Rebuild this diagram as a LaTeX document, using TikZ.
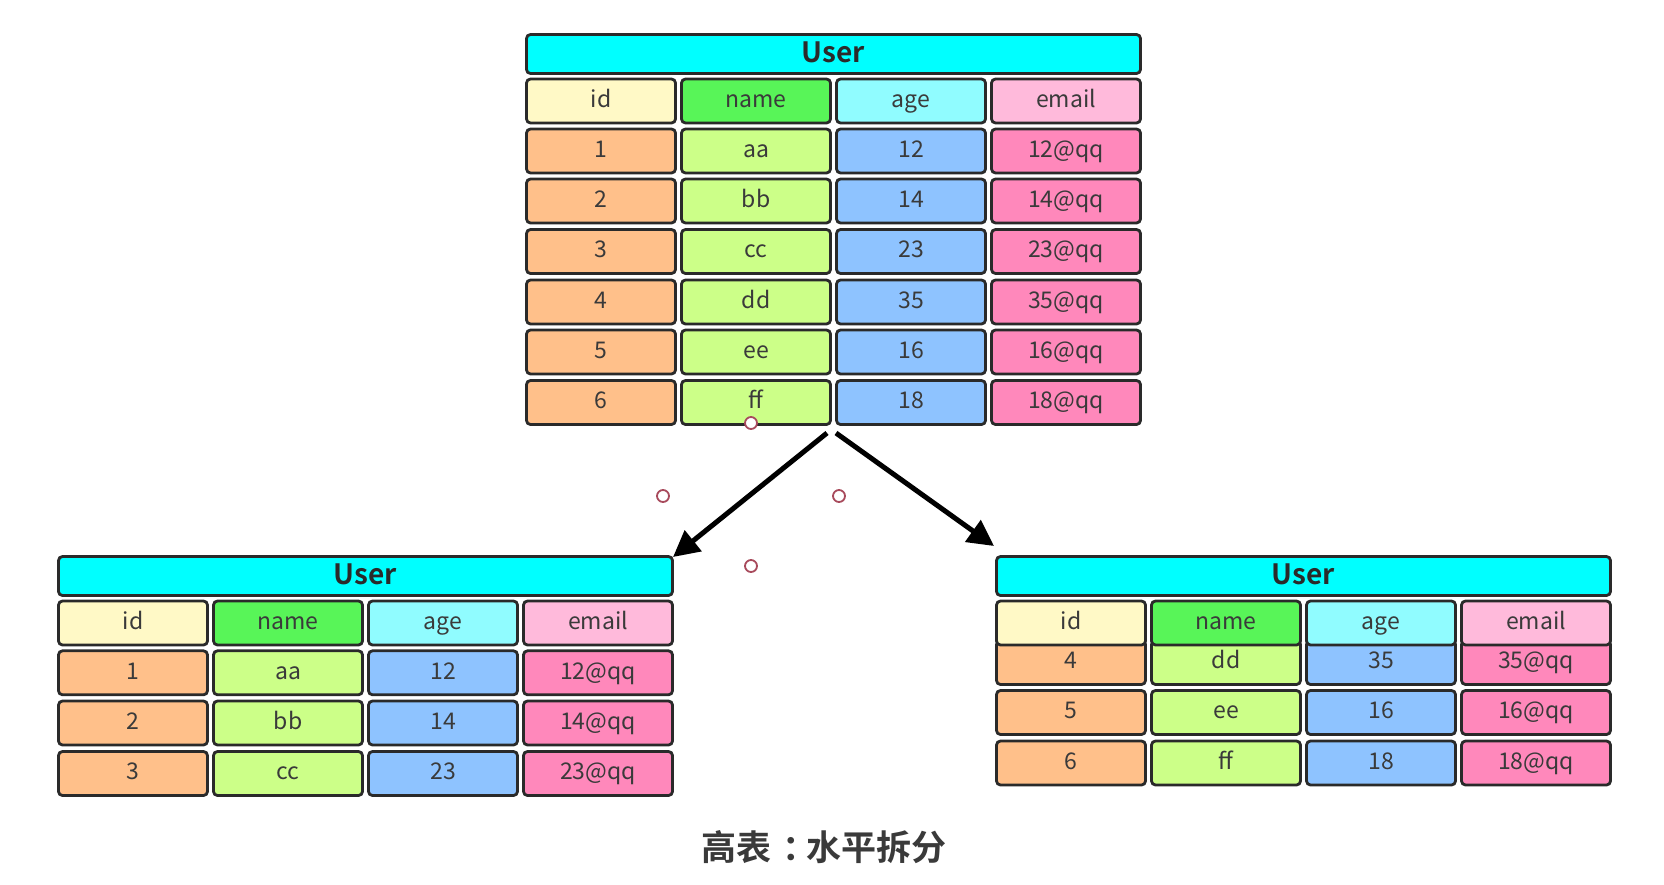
\documentclass[tikz,border=0pt]{standalone}
\usepackage{fontspec}
\setmainfont{Noto Sans CJK SC}[BoldFont={Noto Sans CJK SC Bold}]
\usetikzlibrary{arrows.meta}
\definecolor{ttl}{HTML}{00FFFF}
\definecolor{hid}{HTML}{FFF9C6}
\definecolor{hname}{HTML}{58F558}
\definecolor{hage}{HTML}{90FCFF}
\definecolor{hemail}{HTML}{FFBADB}
\definecolor{cid}{HTML}{FFC08A}
\definecolor{cname}{HTML}{CCFF88}
\definecolor{cage}{HTML}{8EC3FF}
\definecolor{cemail}{HTML}{FF88BB}
\definecolor{bord}{HTML}{2A2A2A}
\definecolor{txt}{HTML}{3A3A3A}
\definecolor{dot}{HTML}{A84A5C}
\tikzset{
 cellbox/.style={draw=bord, line width=2.8pt, rounded corners=4pt, minimum width=149pt, minimum height=44pt, inner sep=0pt, text=txt, text height=16.5pt, text depth=4pt, font=\fontsize{23}{23}\selectfont},
 titlebox/.style={cellbox, fill=ttl, minimum width=614pt, minimum height=39pt, text height=19pt, text depth=2pt, font=\bfseries\fontsize{28}{28}\selectfont, text=bord},
 splitarrow/.style={draw=black, line width=5pt, -{Triangle[length=26pt,width=26pt]}},
 handle/.style={circle, draw=dot, fill=white, line width=1.8pt, minimum size=12pt, inner sep=0pt},
 captionbox/.style={font=\bfseries\fontsize{35}{35}\selectfont, text=txt, inner sep=0pt}
}
\newcommand{\usertable}[4]{%
 \foreach \vi/\vn/\va/\vy in {#4} {
   \node[cellbox, fill=cid] (#1-\vi-id) at (#2+76, \vy) {\vi};
   \node[cellbox, fill=cname] (#1-\vi-name) at (#2+231, \vy) {\vn};
   \node[cellbox, fill=cage] (#1-\vi-age) at (#2+386, \vy) {\va};
   \node[cellbox, fill=cemail] (#1-\vi-email) at (#2+541, \vy) {\va @qq};
 }
 \node[cellbox, fill=hid] (#1-id) at (#2+76, #3+68) {id};
 \node[cellbox, fill=hname] (#1-name) at (#2+231, #3+68) {name};
 \node[cellbox, fill=hage] (#1-age) at (#2+386, #3+68) {age};
 \node[cellbox, fill=hemail] (#1-email) at (#2+541, #3+68) {email};
 \node[titlebox] (#1-title) at (#2+308.5, #3+21) {User};
}
\begin{document}
\begin{tikzpicture}[x=1pt, y=-1pt]
\fill[white] (0,0) rectangle (1664,884);
\useasboundingbox (0,0) rectangle (1664,884);
\usertable{top}{525}{33}{1/aa/12/151, 2/bb/14/201, 3/cc/23/251.5, 4/dd/35/302, 5/ee/16/352, 6/ff/18/402.5}
\usertable{left}{57}{555}{1/aa/12/672.8, 2/bb/14/723, 3/cc/23/773.5}
\usertable{right}{995}{555}{4/dd/35/662.5, 5/ee/16/712.5, 6/ff/18/763}
\coordinate (a1s) at (827,433);
\coordinate (a1e) at (673,557);
\coordinate (a2s) at (836,433);
\coordinate (a2e) at (994,546);
\draw[splitarrow] (a1s) -- (a1e);
\draw[splitarrow] (a2s) -- (a2e);
\node[handle] (h1) at (751,423) {};
\node[handle] (h2) at (663,496) {};
\node[handle] (h3) at (839,496) {};
\node[handle] (h4) at (751,566) {};
\node[captionbox] (cap) at (824,847) {高表\hspace{0.3em}：\hspace{-0.3em}水平拆分};
\end{tikzpicture}
\end{document}
